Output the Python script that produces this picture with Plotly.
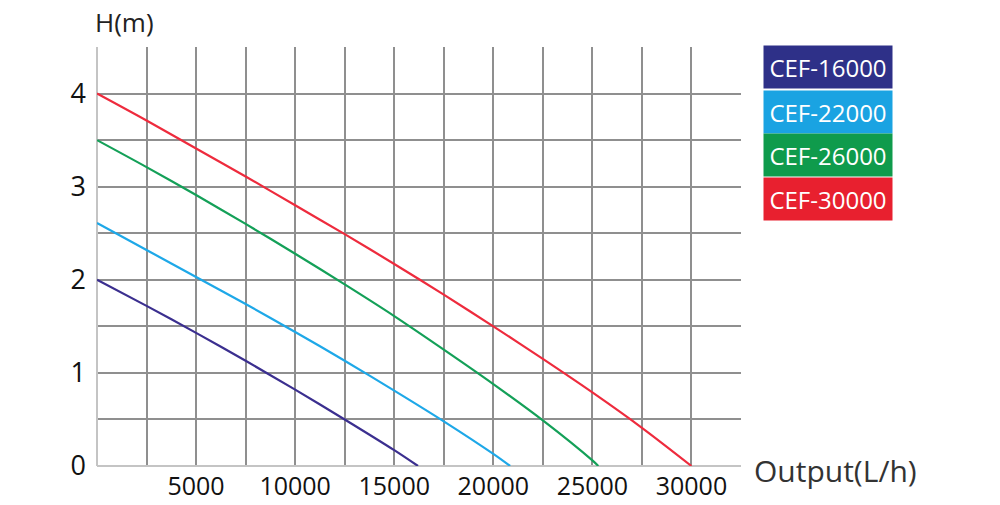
import plotly.graph_objects as go

# ---- data ----
models = ["CEF-16000", "CEF-22000", "CEF-26000", "CEF-30000"]
line_colors = ["#3b2f8f", "#1ea8e8", "#14a058", "#ee2b3d"]
box_colors = ["#2e3088", "#1aa3e2", "#0f9b4c", "#e8202f"]

flow_16000 = [0, 2500, 5000, 7500, 10000, 12500, 15000, 16200]
head_16000 = [2.00, 1.72, 1.43, 1.13, 0.82, 0.50, 0.17, 0.0]

flow_22000 = [0, 2500, 5000, 7500, 10000, 12500, 15000, 17500, 20000, 20850]
head_22000 = [2.61, 2.32, 2.03, 1.74, 1.44, 1.13, 0.81, 0.48, 0.13, 0.0]

flow_26000 = [0, 2500, 5000, 7500, 10000, 12500, 15000, 17500, 20000, 22500, 25000, 25300]
head_26000 = [3.50, 3.21, 2.91, 2.60, 2.28, 1.95, 1.61, 1.25, 0.88, 0.49, 0.06, 0.0]

flow_30000 = [0, 2500, 5000, 7500, 10000, 12500, 15000, 17500, 20000, 22500, 25000, 27500, 30000]
head_30000 = [4.00, 3.71, 3.41, 3.11, 2.80, 2.49, 2.17, 1.84, 1.50, 1.15, 0.79, 0.41, 0.0]

flows = [flow_16000, flow_22000, flow_26000, flow_30000]
heads = [head_16000, head_22000, head_26000, head_30000]

x_grid = [i * 2500 for i in range(14)]
x_labels = ["" if (v == 0 or v % 5000) else str(v) for v in x_grid]
y_grid = [i * 0.5 for i in range(10)]
y_labels = [str(int(v)) if v == int(v) and v < 4.5 else "" for v in y_grid]

# ---- layout constants (pixels) ----
W, H = 1000, 505
L, R, T, B = 97, 259, 47, 39
pw = W - L - R
ph = H - T - B

fig = go.Figure()
for name, xs, ys, c in zip(models, flows, heads, line_colors):
    fig.add_trace(go.Scatter(x=xs, y=ys, mode="lines", name=name,
                             line=dict(color=c, width=2.2, shape="spline", smoothing=0.8),
                             showlegend=False, hoverinfo="x+y+name"))

font = "Open Sans, Noto Sans, DejaVu Sans, sans-serif"

fig.update_xaxes(range=[0, 32500], tickvals=x_grid, ticktext=x_labels,
                 showgrid=True, gridcolor="#8f8f8f", gridwidth=1.5,
                 zeroline=True, zerolinecolor="#c4c4c4", zerolinewidth=2,
                 showline=False, ticks="", ticklabelstandoff=3, automargin=False,
                 tickfont=dict(family=font, size=25, color="#111"))
fig.update_yaxes(range=[0, 4.5], tickvals=y_grid, ticktext=y_labels,
                 showgrid=True, gridcolor="#8f8f8f", gridwidth=1.5,
                 zeroline=True, zerolinecolor="#c4c4c4", zerolinewidth=2,
                 showline=False, ticks="", ticklabelstandoff=10, automargin=False,
                 tickfont=dict(family=font, size=27, color="#111"))

annotations = []
# axis titles
annotations.append(dict(text="H(m)", xref="paper", yref="paper",
                        x=(93 - L) / pw, y=(H - 22 - B) / ph, xanchor="left", yanchor="middle",
                        showarrow=False, font=dict(family=font, size=26, color="#222")))
annotations.append(dict(text="Output(L/h)", xref="paper", yref="paper",
                        x=(752 - L) / pw, y=(H - 470 - B) / ph, xanchor="left", yanchor="middle",
                        showarrow=False, font=dict(family=font, size=30, color="#333")))
# legend boxes
box_centers = [67, 111.5, 155, 198.5]
for name, c, yc in zip(models, box_colors, box_centers):
    annotations.append(dict(text=name, xref="paper", yref="paper",
                            x=(828 - L) / pw, y=(H - yc - B) / ph,
                            xanchor="center", yanchor="middle", showarrow=False,
                            width=124, height=38, borderpad=2, bgcolor=c,
                            font=dict(family=font, size=24, color="white")))

fig.update_layout(width=W, height=H, margin=dict(l=L, r=R, t=T, b=B, autoexpand=False),
                  paper_bgcolor="white", plot_bgcolor="white",
                  annotations=annotations)

fig.write_html("out.html", config={"displayModeBar": False},
               post_script="document.body.style.margin='0';document.body.style.overflow='hidden';")
